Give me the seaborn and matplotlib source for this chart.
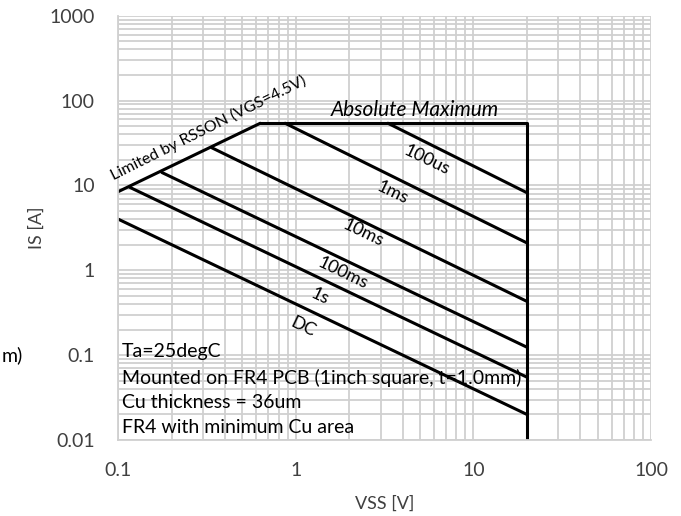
import numpy as np
import pandas as pd
import matplotlib
matplotlib.use("Agg")
import matplotlib.pyplot as plt
from matplotlib.ticker import LogLocator, NullFormatter, FixedLocator, FixedFormatter
import seaborn as sns

# ---- data ----
rds_v = [0.1, 0.63]
rds_i = [8.45, 54]
absmax_v = [0.63, 20, 20]
absmax_i = [54, 54, 0.01]
pulse_names = ["100us", "1ms", "10ms", "100ms", "1s", "DC"]
pulse_v = [[3.3, 20], [0.87, 20], [0.337, 20], [0.176, 20], [0.116, 20], [0.1, 20]]
pulse_i = [[54, 8.2], [54, 2.1], [27.7, 0.43], [14.2, 0.124], [9.5, 0.055], [4.0, 0.02]]
label_v = [5.47, 3.52, 2.39, 1.85, 1.37, 1.1]
label_i = [20, 8.2, 2.76, 0.93, 0.49, 0.216]
x_ticks = [0.1, 1, 10, 100]
x_ticklabels = ["0.1", "1", "10", "100"]
y_ticks = [0.01, 0.1, 1, 10, 100, 1000]
y_ticklabels = ["0.01", "0.1", "1", "10", "100", "1000"]
notes = ["Ta=25degC", "Mounted on FR4 PCB (1inch square, t=1.0mm)",
         "Cu thickness = 36um", "FR4 with minimum Cu area"]
notes_i = [0.110, 0.054, 0.0275, 0.0139]

sns.set_style("white")
plt.rcParams['font.family'] = ['Lato', 'DejaVu Sans']

fig = plt.figure(figsize=(6.81, 5.16), dpi=100)
ax = fig.add_axes([0.1737, 0.1473, 0.956 - 0.1737, 0.9696 - 0.1473])
ax.set_xscale("log")
ax.set_yscale("log")
ax.set_xlim(0.1, 100)
ax.set_ylim(0.01, 1000)

gridc = "#d0d0d0"
ax.xaxis.set_minor_locator(LogLocator(base=10, subs=np.arange(2, 10)))
ax.yaxis.set_minor_locator(LogLocator(base=10, subs=np.arange(2, 10)))
ax.xaxis.set_minor_formatter(NullFormatter())
ax.yaxis.set_minor_formatter(NullFormatter())
ax.grid(True, which="both", color=gridc, lw=1.3)
ax.set_axisbelow(True)
for s in ax.spines.values():
    s.set_visible(False)
for side in ("left", "bottom"):
    ax.spines[side].set_visible(True)
    ax.spines[side].set_color(gridc)
    ax.spines[side].set_linewidth(1.3)

ax.xaxis.set_major_locator(FixedLocator(x_ticks))
ax.xaxis.set_major_formatter(FixedFormatter(x_ticklabels))
ax.yaxis.set_major_locator(FixedLocator(y_ticks))
ax.yaxis.set_major_formatter(FixedFormatter(y_ticklabels))
ax.tick_params(which="major", length=7, width=1.3, color=gridc, labelsize=14,
               labelcolor="#404040")
ax.tick_params(which="minor", length=0)
ax.tick_params(axis="x", pad=9)
ax.tick_params(axis="y", pad=10)

lw = 2.2
sns.lineplot(x=rds_v, y=rds_i, ax=ax, color="black", lw=lw, estimator=None, sort=False)
sns.lineplot(x=absmax_v, y=absmax_i, ax=ax, color="black", lw=lw, estimator=None, sort=False)
for v, i in zip(pulse_v, pulse_i):
    sns.lineplot(x=v, y=i, ax=ax, color="black", lw=lw, estimator=None, sort=False)

ang = -25.6
for name, v, i in zip(pulse_names, label_v, label_i):
    ax.text(v, i, name, rotation=ang, rotation_mode="anchor", ha="center", va="center",
            fontsize=13, color="black")

ax.text(4.69, 77.6, "Absolute Maximum", ha="center", va="center", fontsize=15,
        style="italic", color="black")
ax.text(0.324, 48, "Limited by RSSON (VGS=4.5V)", rotation=26.5, rotation_mode="anchor",
        ha="center", va="center", fontsize=11.5, color="black")

for t, yv in zip(notes, notes_i):
    ax.text(0.105, yv, t, ha="left", va="center", fontsize=14, color="black")

fig.text(2 / 681, 1 - 355 / 516, "m)", ha="left", va="center", fontsize=14, color="black")

ax.set_xlabel("VSS [V]", fontsize=13, color="#404040", labelpad=12)
ax.set_ylabel("IS [A]", fontsize=13, color="#404040", labelpad=3)

fig.savefig("out.png", dpi=100)
